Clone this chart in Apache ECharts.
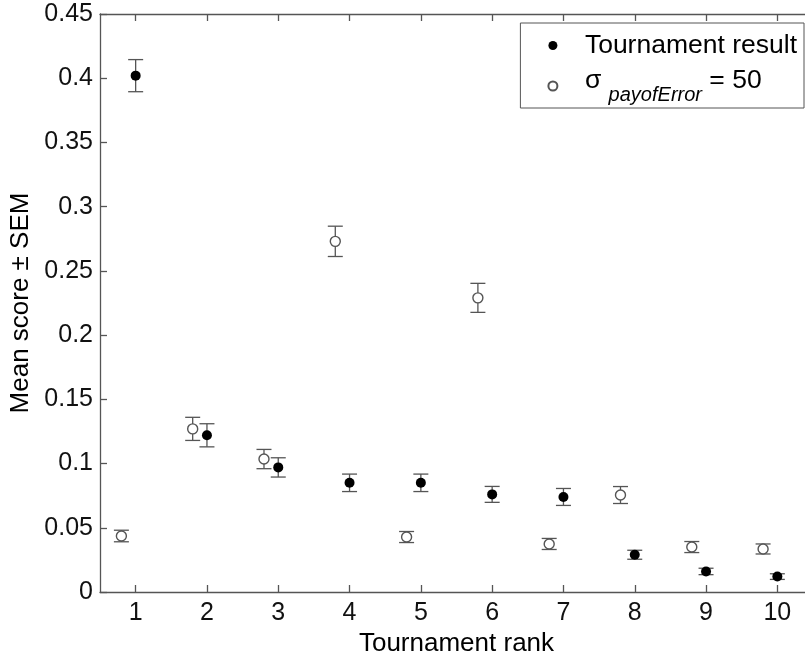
<!DOCTYPE html>
<html>
<head>
<meta charset="utf-8">
<script src="https://cdn.jsdelivr.net/npm/echarts@6/dist/echarts.min.js"></script>
<style>
    html, body { margin: 0; padding: 0; background: #fff; }
    #chart { width: 805px; height: 656px; }
</style>
</head>
<body>
<div id="chart"></div>
<script>
// tournament result, plotted at each rank
var rank = [1, 2, 3, 4, 5, 6, 7, 8, 9, 10];
var resultMean = [0.402, 0.122, 0.097, 0.085, 0.085, 0.076, 0.074, 0.029, 0.016, 0.012];
var resultSem = [0.0125, 0.009, 0.0075, 0.0068, 0.0068, 0.0062, 0.0066, 0.0035, 0.0025, 0.0022];

// sigma payofError = 50, plotted slightly left of each rank
var sigmaRank = [0.8, 1.8, 2.8, 3.8, 4.8, 5.8, 6.8, 7.8, 8.8, 9.8];
var sigmaMean = [0.0436, 0.127, 0.1035, 0.273, 0.0428, 0.229, 0.0374, 0.0755, 0.035, 0.0335];
var sigmaSem = [0.0045, 0.009, 0.0075, 0.0118, 0.0043, 0.0113, 0.0043, 0.0066, 0.0043, 0.0039];

var yTicks = [0, 0.05, 0.1, 0.15, 0.2, 0.25, 0.3, 0.35, 0.4, 0.45];

var myChart = echarts.init(document.getElementById('chart'));

var FONT = '"Liberation Sans", Arial, sans-serif';
var AXIS = '#555';

function points(xs, ys) {
    return xs.map(function (x, i) { return [x, ys[i]]; });
}
function bars(xs, ys, es) {
    return xs.map(function (x, i) { return [x, ys[i] - es[i], ys[i] + es[i]]; });
}

function renderErr(params, api) {
    var lo = api.coord([api.value(0), api.value(1)]);
    var hi = api.coord([api.value(0), api.value(2)]);
    var w = 7.5;
    var st = { stroke: '#555', lineWidth: 1.3 };
    return {
        type: 'group',
        children: [
            { type: 'line', shape: { x1: lo[0], y1: lo[1], x2: hi[0], y2: hi[1] }, style: st },
            { type: 'line', shape: { x1: lo[0] - w, y1: lo[1], x2: lo[0] + w, y2: lo[1] }, style: st },
            { type: 'line', shape: { x1: hi[0] - w, y1: hi[1], x2: hi[0] + w, y2: hi[1] }, style: st }
        ]
    };
}

var option = {
    animation: false,
    backgroundColor: '#fff',
    textStyle: { fontFamily: FONT },
    grid: {
        left: 100,
        top: 14,
        right: -8,
        bottom: 64,
        outerBoundsMode: 'none',
        containLabel: false
    },
    legend: {
        data: ['Tournament result', 'sigma'],
        orient: 'vertical',
        right: 1,
        top: 23,
        backgroundColor: '#fff',
        borderColor: '#555',
        borderWidth: 1,
        borderRadius: 0,
        padding: [9, 7, 3, 27],
        itemGap: 8,
        itemWidth: 54,
        itemHeight: 9,
        formatter: function (name) {
            if (name === 'sigma') {
                return '{m|\u03c3 }{s|payofError}{m| = 50}';
            }
            return '{t|' + name + '}';
        },
        textStyle: {
            fontFamily: FONT,
            color: '#000',
            rich: {
                t: { fontSize: 26.5, lineHeight: 30, color: '#000', fontFamily: FONT },
                m: { fontSize: 26.5, lineHeight: 28, verticalAlign: 'top', color: '#000', fontFamily: FONT },
                s: { fontSize: 20, lineHeight: 38, verticalAlign: 'bottom', fontStyle: 'italic', color: '#000', fontFamily: FONT, padding: [8, 0, 0, 0] }
            }
        }
    },
    xAxis: [{
        type: 'value',
        min: 0.5,
        max: 10.5,
        name: 'Tournament rank',
        nameLocation: 'middle',
        nameGap: 38,
        nameTextStyle: { fontSize: 26, color: '#000', fontFamily: FONT },
        splitLine: { show: false },
        axisLine: { show: true, lineStyle: { color: AXIS, width: 1.3 } },
        axisTick: { show: true, inside: true, length: 7, customValues: rank, lineStyle: { color: AXIS, width: 1.3 } },
        axisLabel: { customValues: rank, fontSize: 25, color: '#111', margin: 9, fontFamily: FONT }
    }, {
        type: 'value',
        position: 'top',
        min: 0.5,
        max: 10.5,
        splitLine: { show: false },
        axisLine: { show: true, lineStyle: { color: AXIS, width: 1.3 } },
        axisTick: { show: true, inside: true, length: 7, customValues: rank, lineStyle: { color: AXIS, width: 1.3 } },
        axisLabel: { show: false }
    }],
    yAxis: {
        type: 'value',
        min: 0,
        max: 0.45,
        interval: 0.05,
        name: 'Mean score \u00b1 SEM',
        nameLocation: 'middle',
        nameGap: 64,
        nameTextStyle: { fontSize: 26, color: '#000', fontFamily: FONT },
        splitLine: { show: false },
        axisLine: { show: true, lineStyle: { color: AXIS, width: 1.3 } },
        axisTick: { show: true, inside: true, length: 7, lineStyle: { color: AXIS, width: 1.3 } },
        axisLabel: {
            fontSize: 25,
            color: '#111',
            margin: 7,
            fontFamily: FONT,
            formatter: function (v) {
                var i = yTicks.findIndex(function (t) { return Math.abs(t - v) < 1e-9; });
                return i >= 0 ? String(yTicks[i]) : '';
            }
        }
    },
    series: [{
        name: 'errResult',
        type: 'custom',
        renderItem: renderErr,
        encode: { x: 0, y: [1, 2] },
        data: bars(rank, resultMean, resultSem),
        z: 2
    }, {
        name: 'errSigma',
        type: 'custom',
        renderItem: renderErr,
        encode: { x: 0, y: [1, 2] },
        data: bars(sigmaRank, sigmaMean, sigmaSem),
        z: 2
    }, {
        name: 'Tournament result',
        type: 'scatter',
        symbol: 'circle',
        symbolSize: 10,
        itemStyle: { color: '#000', opacity: 1 },
        data: points(rank, resultMean),
        z: 5
    }, {
        name: 'sigma',
        type: 'scatter',
        symbol: 'circle',
        symbolSize: 10,
        itemStyle: { color: '#fff', borderColor: '#555', borderWidth: 1.4, opacity: 1 },
        data: points(sigmaRank, sigmaMean),
        z: 5
    }]
};

myChart.setOption(option);

window.addEventListener("resize", function () {
    myChart.resize();
});
</script>
</body>
</html>
